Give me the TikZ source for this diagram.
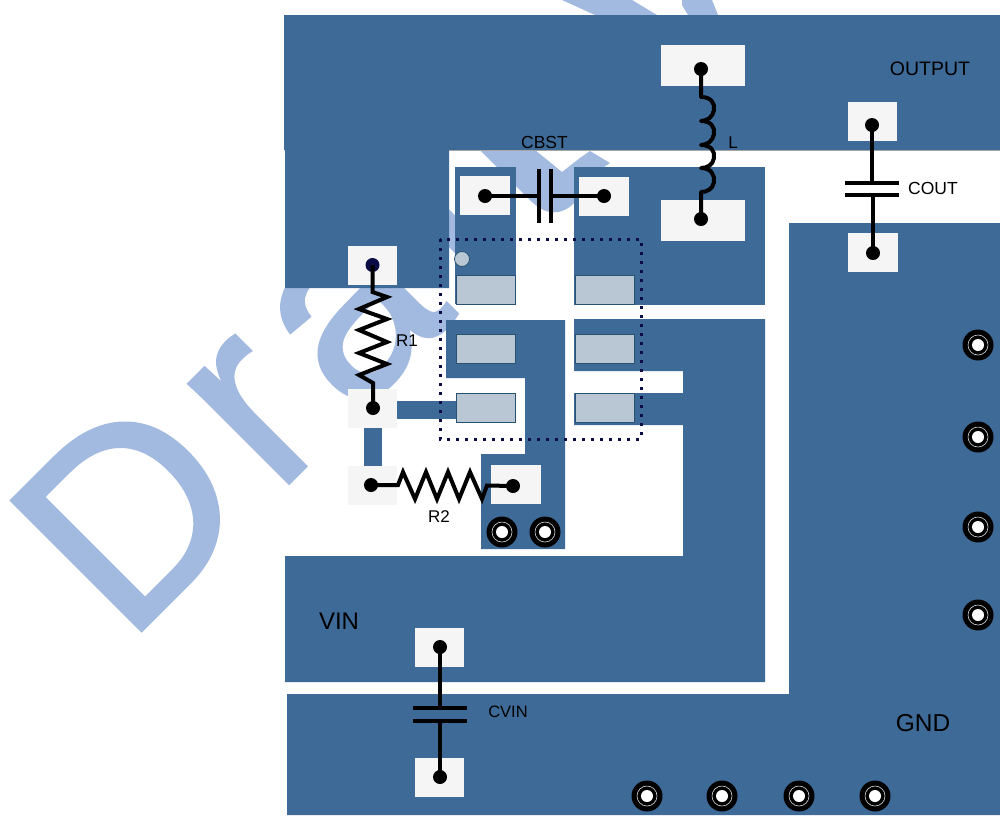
\documentclass[tikz,border=0pt]{standalone}
\usepackage{fontspec}
\setmainfont{Liberation Sans}
\newfontfamily\wmfont[LetterSpace=7.3,FakeBold=1.2]{Liberation Sans}
\definecolor{copper}{HTML}{3E6A98}
\definecolor{wmark}{HTML}{A2B9E0}
\definecolor{padw}{HTML}{F5F5F5}
\definecolor{icfill}{HTML}{B8C7D3}
\definecolor{icline}{HTML}{2A5270}
\definecolor{navy}{HTML}{0B0B45}
\newcommand{\fsz}[1]{\fontsize{#1}{#1}\selectfont}
\tikzset{
  x=1pt,y=-1pt,
  cu/.style={fill=copper,draw=none},
  pad/.style={fill=padw,draw=none},
  icpad/.style={fill=icfill,draw=icline,line width=1pt},
  dotn/.style={circle,fill=black,inner sep=0pt,minimum size=14pt},
  wire/.style={draw=black,line width=4pt,line join=miter},
  plate/.style={draw=black,line width=4.5pt},
  lab/.style={inner sep=0pt,text=black},
  via/.style={circle,fill=black,inner sep=0pt,minimum size=31pt,
    path picture={
      \fill[white] (path picture bounding box.center) circle[radius=6];
      \draw[white!85!black,line width=.6pt] (path picture bounding box.center) circle[radius=10];
    }},
}
\begin{document}
\begin{tikzpicture}
\useasboundingbox (0,0) rectangle (1000,815);
\fill[white] (0,0) rectangle (1000,815);
% watermark
\begin{scope}
\clip (0,0) rectangle (1000,815);
\node[inner sep=0pt,anchor=base west,rotate=45,text=wmark] (wm) at (126,646) {\wmfont\fsz{267}Draft};
\fill[wmark] (562,0) -- (595,15) -- (657,15) -- (632,0) -- cycle;
\fill[wmark] (682,0) -- (682,5) -- (688,15) -- (718,15) -- (712,0) -- cycle;
\fill[wmark] (492,150) -- (535,150) -- (562,172) -- (574,172) -- (574,198) -- (566,205) -- (548,205) -- (516,175) -- cycle;
\fill[wmark] (590,151) -- (610,163) -- (604,167) -- (574,167) -- (574,172) -- (562,172) -- (580,158) -- cycle;
\end{scope}
% copper
\fill[cu] (284,15) -- (1000,15) -- (1000,150) -- (449,150) -- (449,288) -- (285,288) -- (285,150) -- (284,150) -- cycle;
\draw[gray!70,line width=.7pt] (449,150.5) -- (1000,150.5);
\fill[cu] (455,167) rectangle (516,304);
\fill[cu] (574,167) -- (765,167) -- (765,305) -- (574,305) -- cycle;
\fill[cu] (446,320) -- (565,320) -- (565,549) -- (481,549) -- (481,454) -- (525,454) -- (525,378) -- (446,378) -- cycle;
\fill[cu] (574,319) -- (765,319) -- (765,682) -- (285,682) -- (285,556) -- (683,556) -- (683,425) -- (574,425) -- (574,393) -- (683,393) -- (683,371) -- (574,371) -- cycle;
\fill[cu] (789,223) -- (1000,223) -- (1000,815) -- (287,815) -- (287,694) -- (789,694) -- cycle;
\fill[cu] (397,401) rectangle (456,419);
\fill[cu] (364,428) rectangle (382,466);
% pads
\fill[pad] (348,246) rectangle (397,285);
\fill[pad] (348,389) rectangle (397,428);
\fill[pad] (348,466) rectangle (397,505);
\fill[pad] (491,465) rectangle (541,504);
\fill[pad] (460,176) rectangle (510,215);
\fill[pad] (579,177) rectangle (629,216);
\fill[pad] (661,45) rectangle (745,86);
\fill[pad] (661,200) rectangle (745,241);
\fill[pad] (848,102) rectangle (897,141);
\fill[pad] (848,233) rectangle (898,272);
\fill[pad] (415,628) rectangle (464,667);
\fill[pad] (415,758) rectangle (464,797);
% IC pads
\draw[icpad] (456.5,275) rectangle (515.5,304);
\draw[icpad] (456.5,334) rectangle (515.5,363);
\draw[icpad] (456.5,393) rectangle (515.5,422);
\draw[icpad] (575,275) rectangle (634,304);
\draw[icpad] (575,334) rectangle (634,363);
\draw[icpad] (575,393) rectangle (634,422);
\node[circle,fill=icfill,draw=icline,line width=.8pt,inner sep=0pt,minimum size=15pt] (pin) at (462,259) {};
\draw[navy,line width=3pt,dash pattern=on 3pt off 6pt] (440,239) rectangle (641,439);
% terminals
\node[dotn,fill=navy] (r1a) at (372.5,265) {};
\node[dotn] (r1b) at (373,408) {};
\node[dotn] (r2a) at (371,485) {};
\node[dotn] (r2b) at (513,486) {};
\node[dotn] (cba) at (485,196) {};
\node[dotn] (cbb) at (604,196) {};
\node[dotn] (la) at (701,69) {};
\node[dotn] (lb) at (701,219) {};
\node[dotn] (coa) at (872,125) {};
\node[dotn] (cob) at (873,253) {};
\node[dotn] (cva) at (440,647) {};
\node[dotn] (cvb) at (440,777) {};
% R1
\draw[wire] (r1a.center) -- (372.5,292) -- (387,297) -- (359,309) -- (387,319) -- (359,330) -- (387,342) -- (359,353) -- (387,364) -- (359,375) -- (373,383) -- (r1b.center);
% R2
\draw[wire] (r2a.center) -- (398,485) -- (403,472) -- (415,499) -- (426,472) -- (437,499) -- (448,472) -- (459,499) -- (470,472) -- (482,499) -- (487,485.5) -- (r2b.center);
% L
\draw[wire,line join=round] (la.center) -- (701,97) .. controls (711,97) and (715,103) .. (714,110) .. controls (713,117) and (707,121) .. (701,121)
 .. controls (711,121) and (715,127) .. (714,134) .. controls (713,141) and (707,145) .. (701,145)
 .. controls (711,145) and (715,151) .. (714,158) .. controls (713,165) and (707,168) .. (701,168)
 .. controls (711,168) and (715,175) .. (714,182) .. controls (713,189) and (707,192) .. (701,192) -- (lb.center);
% caps
\coordinate (cb1) at (539,196);
\coordinate (cb2) at (551,196);
\draw[wire] (cba.center) -- (cb1);
\draw[wire] (cbb.center) -- (cb2);
\draw[plate] (539,169) -- (539,223);
\draw[plate] (551,169) -- (551,223);
\coordinate (co1) at (872,183);
\coordinate (co2) at (873,195);
\draw[wire] (coa.center) -- (co1);
\draw[wire] (cob.center) -- (co2);
\draw[plate] (845,183) -- (899,183);
\draw[plate] (845,195) -- (899,195);
\coordinate (cv1) at (440,708);
\coordinate (cv2) at (440,721);
\draw[wire] (cva.center) -- (cv1);
\draw[wire] (cvb.center) -- (cv2);
\draw[plate] (413,708) -- (467,708);
\draw[plate] (413,721) -- (467,721);
% vias
\foreach \n/\a/\b in {v1/978/345,v2/978/437,v3/978/527,v4/978/615,v5/647/796,v6/722/796,v7/799/796,v8/875/796,v9/502/532,v10/545/532}{
  \node[via] (\n) at (\a,\b) {};
}
% labels
\node[lab] (tout) at (930,69) {\fsz{19.5}OUTPUT};
\node[lab] (tvin) at (339,621) {\fsz{24}VIN};
\node[lab] (tgnd) at (923,723) {\fsz{24.5}GND};
\node[lab] (tcout) at (933,188) {\fsz{17.5}COUT};
\node[lab] (tcbst) at (544.5,142) {\fsz{17.5}CBST};
\node[lab] (tcvin) at (508,712) {\fsz{16.5}CVIN};
\node[lab] (tr1) at (407,341) {\fsz{17}R1};
\node[lab] (tr2) at (439,517) {\fsz{17}R2};
\node[lab] (tl) at (733,143) {\fsz{17}L};
\end{tikzpicture}
\end{document}
